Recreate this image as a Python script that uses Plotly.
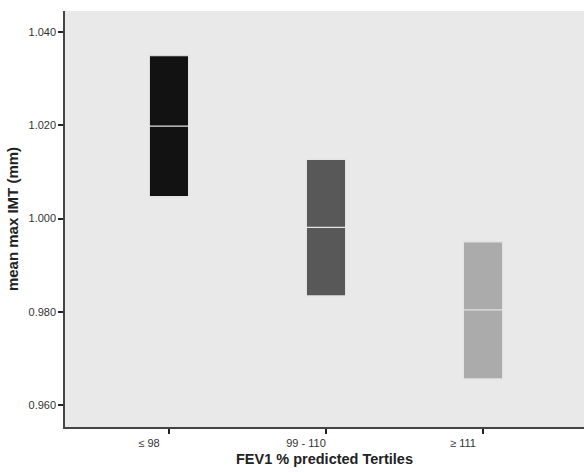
import plotly.graph_objects as go

categories = ["≤ 98", "99 - 110", "≥ 111"]
upper = [1.0349, 1.0127, 0.9950]
mean = [1.0198, 0.9981, 0.9804]
lower = [1.0047, 0.9834, 0.9656]
colors = ["#121212", "#585858", "#ababab"]
y_ticks = [0.960, 0.980, 1.000, 1.020, 1.040]

fig = go.Figure()
for c, u, m, l, col in zip(categories, upper, mean, lower, colors):
    fig.add_trace(go.Box(
        x=[c], q1=[l], median=[m], q3=[u], lowerfence=[l], upperfence=[u],
        fillcolor=col, line=dict(color="#e4e4e4", width=1.2),
        width=0.25, whiskerwidth=0, showlegend=False, hoverinfo="skip",
    ))

font = "Liberation Sans, Arial, sans-serif"
fig.update_layout(
    width=584, height=473,
    margin=dict(l=65, r=0, t=11, b=46),
    paper_bgcolor="white", plot_bgcolor="#e9e9e9",
    font=dict(family=font, color="#222"),
    showlegend=False,
    xaxis=dict(
        type="category", categoryorder="array", categoryarray=categories,
        range=[-0.662, 2.643], showgrid=False, zeroline=False,
        showline=True, linecolor="#444", linewidth=1.5,
        ticks="outside", ticklen=5, tickwidth=1.5, tickcolor="#222",
        tickfont=dict(size=11, color="#333"), ticklabelshift=-20,
        title=dict(text="<b>FEV1 % predicted Tertiles</b>", font=dict(size=14.5, color="#222"), standoff=6),
    ),
    yaxis=dict(
        range=[0.9553, 1.0445], tickvals=y_ticks, tickformat=".3f",
        showgrid=False, zeroline=False,
        showline=True, linecolor="#444", linewidth=1.5,
        ticks="outside", ticklen=5, tickwidth=1.5, tickcolor="#222",
        tickfont=dict(size=11, color="#333"),
        title=dict(text="<b>mean max IMT (mm)</b>", font=dict(size=15, color="#222"), standoff=6),
    ),
)
fig.write_html(
    "out.html",
    config={"displayModeBar": False},
    post_script="document.body.style.margin='0';document.body.style.overflow='hidden';",
)
